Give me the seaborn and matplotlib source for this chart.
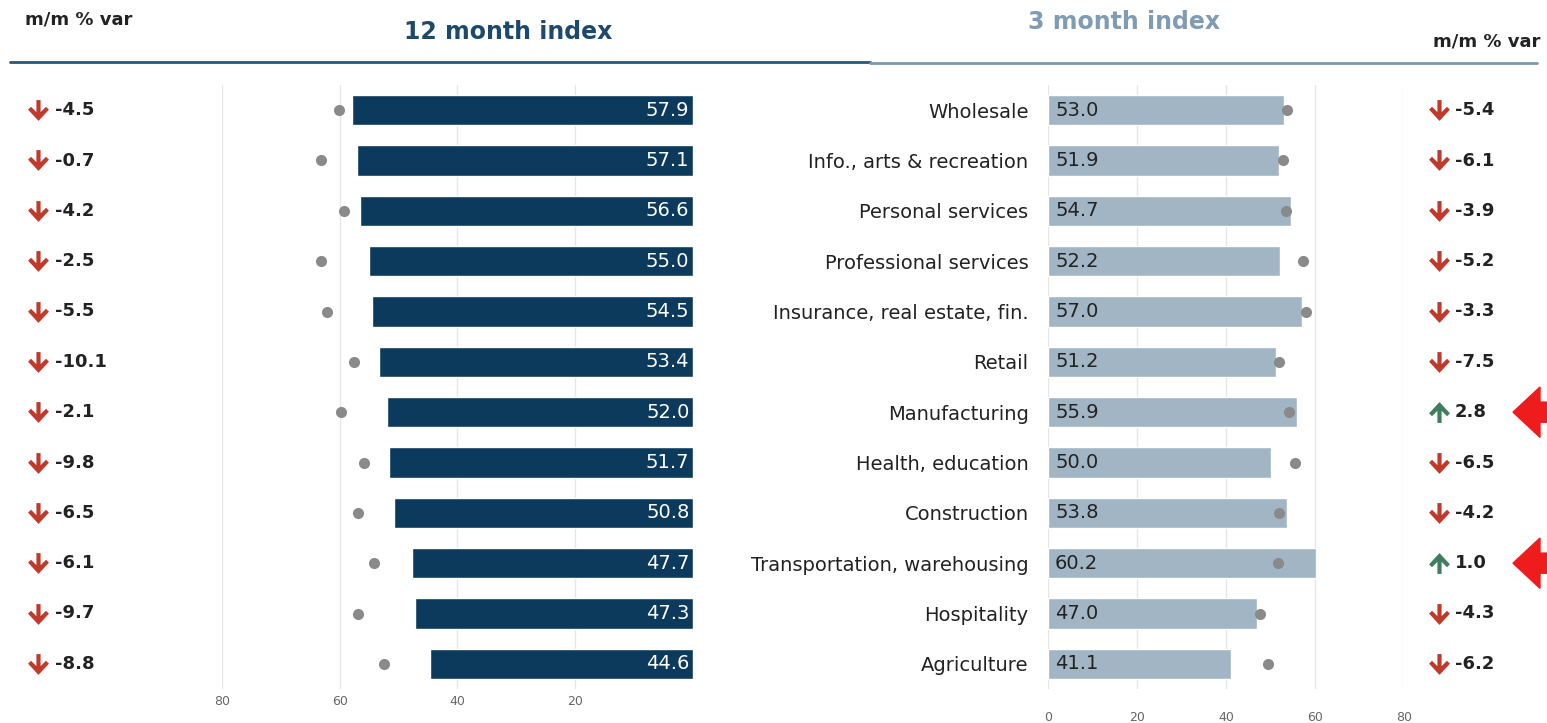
import matplotlib.pyplot as plt
import pandas as pd
import seaborn as sns
from matplotlib.transforms import blended_transform_factory
from matplotlib.patches import Polygon
from matplotlib.lines import Line2D
from matplotlib.path import Path

# Data
sectors = ['Wholesale', 'Info., arts & recreation', 'Personal services',
           'Professional services', 'Insurance, real estate, fin.', 'Retail',
           'Manufacturing', 'Health, education', 'Construction',
           'Transportation, warehousing', 'Hospitality', 'Agriculture']
index_12m = [57.9, 57.1, 56.6, 55.0, 54.5, 53.4, 52.0, 51.7, 50.8, 47.7, 47.3, 44.6]
prev_12m = [60.2, 63.1, 59.3, 63.1, 62.2, 57.6, 59.8, 55.9, 56.9, 54.2, 56.9, 52.5]
var_12m = [-4.5, -0.7, -4.2, -2.5, -5.5, -10.1, -2.1, -9.8, -6.5, -6.1, -9.7, -8.8]
index_3m = [53.0, 51.9, 54.7, 52.2, 57.0, 51.2, 55.9, 50.0, 53.8, 60.2, 47.0, 41.1]
prev_3m = [53.8, 52.7, 53.4, 57.2, 57.9, 51.8, 54.1, 55.4, 51.8, 51.6, 47.7, 49.5]
var_3m = [-5.4, -6.1, -3.9, -5.2, -3.3, -7.5, 2.8, -6.5, -4.2, 1.0, -4.3, -6.2]
left_ticks = [20, 40, 60, 80]
right_ticks = [0, 20, 40, 60, 80]

sns.set_theme(style='white')
plt.rcParams['font.family'] = ['DejaVu Sans']

DARK = '#0c3a5c'
LIGHT = '#a2b5c5'
DOT = '#8a8a8a'
RED = '#c0392b'
GREEN = '#3f7d5e'

# chevron style arrow markers
down_pts = [(-0.1, 0.5), (0.1, 0.5), (0.1, -0.08), (0.36, 0.18), (0.5, 0.04),
            (0, -0.5), (-0.5, 0.04), (-0.36, 0.18), (-0.1, -0.08), (-0.1, 0.5)]
DOWN = Path(down_pts, closed=True)
UP = Path([(x, -y) for x, y in down_pts], closed=True)

fig = plt.figure(figsize=(15.47, 7.23), dpi=100)
fig.patch.set_facecolor('white')

ax_l = fig.add_axes([222 / 1547, 1 - 689 / 723, 471 / 1547, 604 / 723])
ax_r = fig.add_axes([1048 / 1547, 1 - 689 / 723, 356 / 1547, 604 / 723])

df_l = pd.DataFrame({'row': [str(i) for i in range(len(index_12m))],
                     'idx': index_12m, 'prev': prev_12m})
df_r = pd.DataFrame({'sector': sectors, 'idx': index_3m, 'prev': prev_3m})

# 12 month panel (reversed axis)
sns.barplot(data=df_l, x='idx', y='row', orient='h', color=DARK,
            saturation=1, width=0.6, ax=ax_l)
sns.stripplot(data=df_l, x='prev', y='row', orient='h', jitter=False,
              color=DOT, size=8, ax=ax_l, zorder=3)
ax_l.set_xlim(80, 0)
ax_l.set_ylim(11.5, -0.5)
ax_l.set_xticks(left_ticks)
ax_l.set_yticks([])
ax_l.set_xlabel('')
ax_l.set_ylabel('')
for i, v in enumerate(index_12m):
    ax_l.text(0.6, i, f'{v:.1f}', ha='right', va='center', color='white',
              fontsize=14)

# 3 month panel
sns.barplot(data=df_r, x='idx', y='sector', orient='h', color=LIGHT,
            saturation=1, width=0.6, ax=ax_r)
sns.stripplot(data=df_r, x='prev', y='sector', orient='h', jitter=False,
              color=DOT, size=8, ax=ax_r, zorder=3)
ax_r.set_xlim(0, 80)
ax_r.set_ylim(11.5, -0.5)
ax_r.set_xticks(right_ticks)
ax_r.set_xlabel('')
ax_r.set_ylabel('')
for i, v in enumerate(index_3m):
    ax_r.text(1.6, i, f'{v:.1f}', ha='left', va='center', color='#222222',
              fontsize=14)

for ax in (ax_l, ax_r):
    ax.set_axisbelow(True)
    ax.xaxis.grid(True, color='#e6e6e6', lw=1)
    ax.yaxis.grid(False)
    for s in ax.spines.values():
        s.set_visible(False)
ax_l.tick_params(axis='x', length=0, pad=4, labelsize=9, labelcolor='#666666')
ax_r.tick_params(axis='x', length=0, pad=16, labelsize=9, labelcolor='#666666')
ax_r.tick_params(axis='y', length=0, pad=14, labelsize=14, labelcolor='#222222')


def arrow_mark(ax, x, y, up, trans):
    col = GREEN if up else RED
    ax.plot([x], [y], marker=UP if up else DOWN, markersize=15, color=col,
            markeredgewidth=0, linestyle='none', transform=trans,
            clip_on=False)


# m/m % var columns
tl = blended_transform_factory(ax_l.transAxes, ax_l.transData)
for i, v in enumerate(var_12m):
    arrow_mark(ax_l, -0.39, i, v > 0, tl)
    ax_l.text(-0.355, i, f'{v:.1f}', transform=tl, ha='left', va='center',
              color='#222222', fontsize=13, fontweight='bold')

tr = blended_transform_factory(ax_r.transAxes, ax_r.transData)
tf = blended_transform_factory(fig.transFigure, ax_r.transData)
for i, v in enumerate(var_3m):
    up = v > 0
    arrow_mark(ax_r, 1.098, i, up, tr)
    ax_r.text(1.143, i, f'{v:.1f}', transform=tr, ha='left', va='center',
              color='#222222', fontsize=13, fontweight='bold')
    if up:
        # red pointer arrows highlighting the gainers
        tip = 1513 / 1547
        back = 1540 / 1547
        pts = [(tip, i), (back, i - 0.5), (back, i - 0.2), (1.0, i - 0.2),
               (1.0, i + 0.2), (back, i + 0.2), (back, i + 0.5)]
        ax_r.add_patch(Polygon(pts, closed=True, transform=tf, color='#ee1c1c',
                               clip_on=False, zorder=5))

# Header
fig.text(25 / 1547, 1 - 20 / 723, 'm/m % var', ha='left', va='center',
         fontsize=13, fontweight='bold', color='#222222')
fig.text(508 / 1547, 1 - 32 / 723, '12 month index', ha='center', va='center',
         fontsize=17, fontweight='bold', color='#1d4a6b')
fig.text(1124 / 1547, 1 - 22 / 723, '3 month index', ha='center', va='center',
         fontsize=17, fontweight='bold', color='#7f9cb2')
fig.text(1540 / 1547, 1 - 42 / 723, 'm/m % var', ha='right', va='center',
         fontsize=13, fontweight='bold', color='#222222')
fig.add_artist(Line2D([10 / 1547, 870 / 1547], [1 - 62 / 723] * 2,
                      transform=fig.transFigure, color='#2b5677', lw=2))
fig.add_artist(Line2D([870 / 1547, 1537 / 1547], [1 - 63 / 723] * 2,
                      transform=fig.transFigure, color='#7d97ac', lw=2))

fig.savefig('out.png', dpi=100, facecolor='white')
